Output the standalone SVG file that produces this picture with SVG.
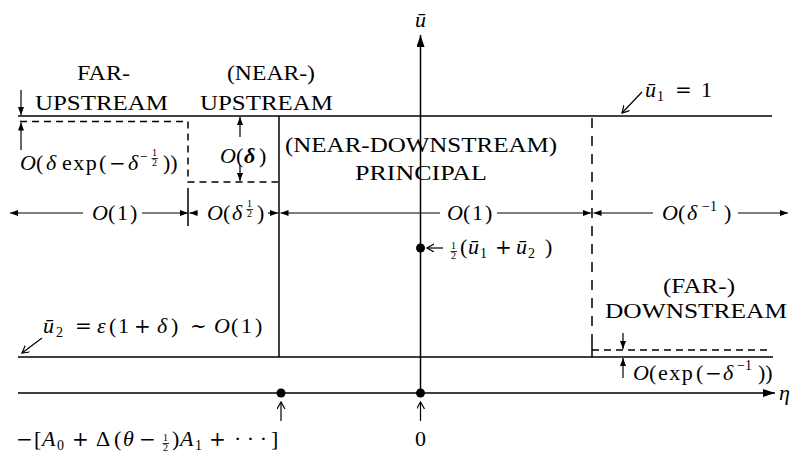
<svg xmlns="http://www.w3.org/2000/svg" width="795" height="453" viewBox="0 0 795 453">
<style>
.cap{font-family:"Liberation Serif","Times New Roman",serif;font-size:21px;fill:#000}
.m{font-family:"Liberation Serif","Times New Roman",serif;font-size:22px;fill:#000}
.i{font-style:italic}
.b{font-weight:bold}
.s{font-size:14px}
.f{font-size:10px}
.op{font-family:"DejaVu Serif",serif;font-size:20px}
.xp{letter-spacing:1.5px}
.ln{stroke:#000;stroke-width:1.5;fill:none}
.th{stroke:#000;stroke-width:1.2;fill:none}
.ds{stroke:#000;stroke-width:1.5;fill:none;stroke-dasharray:7 5}
.dv{stroke:#000;stroke-width:1.5;fill:none;stroke-dasharray:10 8}
.fb{stroke:#000;stroke-width:0.8}
</style>
<defs>
<marker id="big" markerUnits="userSpaceOnUse" markerWidth="14" markerHeight="10" refX="12" refY="4" orient="auto">
<path d="M0,0 L12,4 L0,8 Z" fill="#000"/>
</marker>
<marker id="sm" markerUnits="userSpaceOnUse" markerWidth="10" markerHeight="8" refX="8" refY="3" orient="auto">
<path d="M0,0 L8,3 L0,6 Z" fill="#000"/>
</marker>
<marker id="op" markerUnits="userSpaceOnUse" markerWidth="10" markerHeight="10" refX="7" refY="4" orient="auto">
<path d="M0,0 L7,4 L0,8" fill="none" stroke="#000" stroke-width="1.2"/>
</marker>
</defs>

<g id="axes">
<line class="ln" x1="18" y1="393" x2="775" y2="393" marker-end="url(#big)"/>
<line class="ln" x1="420.5" y1="393" x2="420.5" y2="35" marker-end="url(#big)"/>
<text class="m i" x="420.5" y="27" text-anchor="middle">ū</text>
<text class="m i" x="779" y="400">η</text>
</g>

<g id="boundaries">
<line class="ln" x1="18" y1="116" x2="772" y2="116"/>
<line class="ln" x1="18" y1="357" x2="773" y2="357"/>
<line class="ln" x1="279" y1="116" x2="279" y2="357"/>
<path class="ds" d="M20,121.5 H188"/>
<path class="ds" d="M188,121.5 V182 H278"/>
<line class="ln" x1="188" y1="188" x2="188" y2="226"/>
<path class="dv" d="M592,118 V350"/>
<path class="ds" d="M592,350 H770"/>
<line class="ln" x1="592" y1="344" x2="592" y2="357"/>
</g>

<g id="connectors">
<line class="th" x1="83" y1="213" x2="10" y2="213" marker-end="url(#sm)"/>
<line class="th" x1="142" y1="213" x2="188" y2="213" marker-end="url(#sm)"/>
<line class="th" x1="198" y1="213" x2="189.5" y2="213" marker-end="url(#sm)"/>
<line class="th" x1="268" y1="213" x2="278" y2="213" marker-end="url(#sm)"/>
<line class="th" x1="440" y1="213" x2="280.5" y2="213" marker-end="url(#sm)"/>
<line class="th" x1="497" y1="213" x2="591" y2="213" marker-end="url(#sm)"/>
<line class="th" x1="653" y1="213" x2="593.5" y2="213" marker-end="url(#sm)"/>
<line class="th" x1="738" y1="213" x2="788" y2="213" marker-end="url(#sm)"/>
<line class="th" x1="21" y1="90" x2="21" y2="115" marker-end="url(#sm)"/>
<line class="th" x1="21" y1="150" x2="21" y2="122.5" marker-end="url(#sm)"/>
<line class="th" x1="240" y1="137" x2="240" y2="117" marker-end="url(#sm)"/>
<line class="th" x1="240" y1="165" x2="240" y2="181" marker-end="url(#sm)"/>
<line class="th" x1="623" y1="333" x2="623" y2="349" marker-end="url(#sm)"/>
<line class="th" x1="623" y1="378" x2="623" y2="358" marker-end="url(#sm)"/>
<line class="th" x1="642" y1="92" x2="622" y2="113" marker-end="url(#op)"/>
<line class="th" x1="42" y1="338" x2="22" y2="353" marker-end="url(#op)"/>
<line class="th" x1="443" y1="248" x2="427" y2="248" marker-end="url(#op)"/>
<line class="th" x1="281" y1="421" x2="281" y2="402" marker-end="url(#op)"/>
<line class="th" x1="420.5" y1="421" x2="420.5" y2="402" marker-end="url(#op)"/>
<circle cx="281" cy="393" r="4.5" fill="#000"/>
<circle cx="420.5" cy="393" r="4.5" fill="#000"/>
<circle cx="420.5" cy="248" r="4.5" fill="#000"/>
</g>

<g id="far-upstream">
<text class="cap" x="77" y="80" textLength="53" lengthAdjust="spacingAndGlyphs">FAR-</text>
<text class="cap" x="35" y="110" textLength="133" lengthAdjust="spacingAndGlyphs">UPSTREAM</text>
<text class="m"><tspan class="i" x="20" y="170">O</tspan><tspan x="36">(</tspan><tspan class="i" x="46">δ</tspan><tspan class="xp" x="62">exp</tspan><tspan x="99">(</tspan><tspan class="op" x="109">−</tspan><tspan class="i" x="128">δ</tspan><tspan class="s" x="140" y="161">−</tspan><tspan class="f" x="152" y="156">1</tspan><tspan class="f" x="152" y="166">2</tspan><tspan x="163" y="170">))</tspan></text>
<line class="fb" x1="151.5" y1="158.5" x2="158" y2="158.5"/>
</g>

<g id="near-upstream">
<text class="cap" x="227" y="80" textLength="88" lengthAdjust="spacingAndGlyphs">(NEAR-)</text>
<text class="cap" x="200" y="110" textLength="133" lengthAdjust="spacingAndGlyphs">UPSTREAM</text>
<text class="m"><tspan class="i" x="220" y="163">O</tspan><tspan x="236">(</tspan><tspan class="i b" x="244">δ</tspan><tspan x="259">)</tspan></text>
</g>

<g id="principal">
<text class="cap" x="285" y="152" textLength="272" lengthAdjust="spacingAndGlyphs">(NEAR-DOWNSTREAM)</text>
<text class="cap" x="355" y="180" textLength="132" lengthAdjust="spacingAndGlyphs">PRINCIPAL</text>
</g>

<g id="far-downstream">
<text class="cap" x="663" y="293" textLength="72" lengthAdjust="spacingAndGlyphs">(FAR-)</text>
<text class="cap" x="605" y="318" textLength="182" lengthAdjust="spacingAndGlyphs">DOWNSTREAM</text>
<text class="m"><tspan class="i" x="633" y="380">O</tspan><tspan x="649">(</tspan><tspan class="xp" x="658">exp</tspan><tspan x="696">(</tspan><tspan class="op" x="705">−</tspan><tspan class="i" x="723">δ</tspan><tspan class="s" x="737" y="370">−1</tspan><tspan x="758" y="380">))</tspan></text>
</g>

<g id="widths">
<text class="m"><tspan class="i" x="92" y="220">O</tspan><tspan x="108">(</tspan><tspan x="117">1</tspan><tspan x="130">)</tspan></text>
<text class="m"><tspan class="i" x="207" y="220">O</tspan><tspan x="223">(</tspan><tspan class="i" x="232">δ</tspan><tspan class="f" x="247" y="207">1</tspan><tspan class="f" x="247" y="217">2</tspan><tspan x="257" y="220">)</tspan></text>
<line class="fb" x1="246.5" y1="209.5" x2="253" y2="209.5"/>
<text class="m"><tspan class="i" x="447" y="220">O</tspan><tspan x="463">(</tspan><tspan x="472">1</tspan><tspan x="485">)</tspan></text>
<text class="m"><tspan class="i" x="662" y="220">O</tspan><tspan x="678">(</tspan><tspan class="i" x="687">δ</tspan><tspan class="s" x="702" y="211">−1</tspan><tspan x="724" y="220">)</tspan></text>
</g>

<g id="levels">
<text class="m"><tspan class="i" x="645" y="97">ū</tspan><tspan class="s" x="657" y="101">1</tspan><tspan class="op" x="675" y="97">=</tspan><tspan x="701">1</tspan></text>
<text class="m"><tspan class="f" x="451" y="249">1</tspan><tspan class="f" x="451" y="259">2</tspan><tspan x="460" y="254">(</tspan><tspan class="i" x="468">ū</tspan><tspan class="s" x="480" y="258">1</tspan><tspan class="op" x="495" y="254">+</tspan><tspan class="i" x="516">ū</tspan><tspan class="s" x="528" y="258">2</tspan><tspan x="545" y="254">)</tspan></text>
<line class="fb" x1="450.5" y1="251.5" x2="457" y2="251.5"/>
<text class="m"><tspan class="i" x="43" y="333">ū</tspan><tspan class="s" x="56" y="337">2</tspan><tspan class="op" x="75" y="333">=</tspan><tspan class="i" x="97">ε</tspan><tspan x="109">(</tspan><tspan x="118">1</tspan><tspan class="op" x="134">+</tspan><tspan class="i" x="157">δ</tspan><tspan x="171">)</tspan><tspan class="op" x="190">~</tspan><tspan class="i" x="214">O</tspan><tspan x="231">(</tspan><tspan x="241">1</tspan><tspan x="255">)</tspan></text>
</g>

<g id="origin-labels">
<text class="m"><tspan class="op" x="16" y="446">−</tspan><tspan x="34">[</tspan><tspan class="i" x="42">A</tspan><tspan class="s" x="57" y="450">0</tspan><tspan class="op" x="72" y="446">+</tspan><tspan x="96">Δ</tspan><tspan x="114">(</tspan><tspan class="i" x="123">θ</tspan><tspan class="op" x="139">−</tspan><tspan class="f" x="163" y="441">1</tspan><tspan class="f" x="163" y="451">2</tspan><tspan x="172" y="446">)</tspan><tspan class="i" x="180">A</tspan><tspan class="s" x="195" y="450">1</tspan><tspan class="op" x="209" y="446">+</tspan><tspan x="234">· · ·</tspan><tspan x="271">]</tspan></text>
<line class="fb" x1="162.5" y1="443.5" x2="169" y2="443.5"/>
<text class="m" x="420.5" y="446" text-anchor="middle">0</text>
</g>
</svg>
